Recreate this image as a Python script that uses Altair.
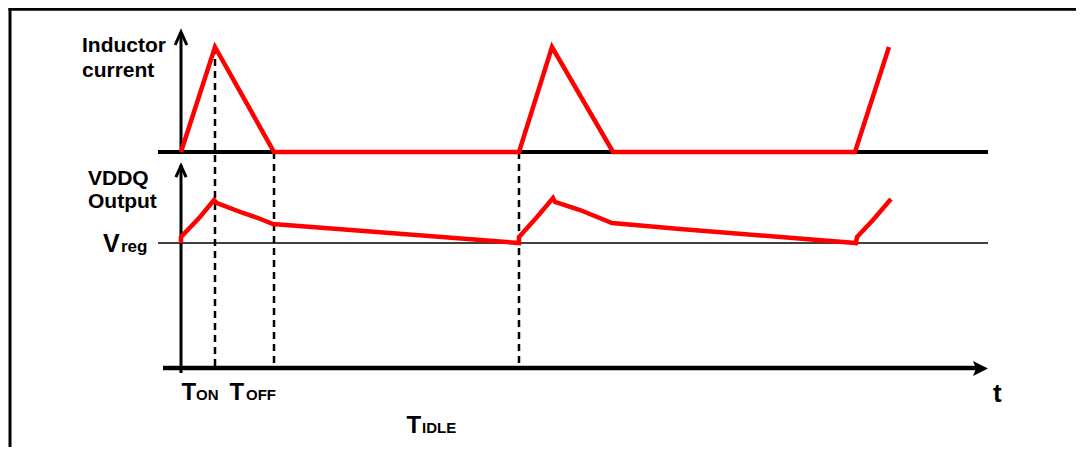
import altair as alt
import pandas as pd

# ---------------- data ----------------
# time axis in arbitrary time units (0 = start of first switching cycle)
cur_t = [0.0, 3.4, 9.3, 33.8, 37.1, 43.2, 67.4, 70.8]
cur_i = [0.0, 1.0, 0.0, 0.0, 1.0, 0.0, 0.0, 1.0]          # inductor current (peak = 1)

v_t = [0.0, 0.0, 1.9, 3.3, 3.6, 6.2, 7.7, 9.2,
       33.8, 33.8, 35.6, 37.2, 37.4, 39.9, 43.1, 49.9,
       67.5, 67.6, 69.2, 71.0]
v_mv = [0.0, 3.0, 13.0, 21.5, 20.0, 15.0, 12.5, 9.5,
        0.0, 3.0, 13.0, 22.5, 20.5, 16.5, 10.0, 7.0,
        0.0, 3.0, 11.5, 22.0]                              # VDDQ above Vreg (mV)

mark_t = [3.4, 9.3, 33.8]            # dashed time markers
mark_i = [1.0, 0.0, 0.0]             # current level where each marker starts

labels = ["Inductor", "current", "VDDQ", "Output", "V", "reg",
          "T", "ON", "T", "OFF", "T", "IDLE", "t"]

# ---------------- layout ----------------
W, H = 1068, 439
I_BASE, I_GAIN = 216, 105      # current panel baseline / height in diagram units
V_BASE, V_GAIN = 125, 2        # Vreg level / units per mV
T_END = 80.7

XS = alt.Scale(domain=[-17.3, 89.5], nice=False, zero=False)
YS = alt.Scale(domain=[-79, 360], nice=False, zero=False)


def X(f):
    return alt.X(f, type="quantitative", scale=XS, axis=None)


def Y(f):
    return alt.Y(f, type="quantitative", scale=YS, axis=None)


cur = pd.DataFrame({"t": cur_t, "i": cur_i})
cur["y"] = I_BASE + cur["i"] * I_GAIN
cur["k"] = range(len(cur))

volt = pd.DataFrame({"t": v_t, "mv": v_mv})
volt["y"] = V_BASE + volt["mv"] * V_GAIN
volt["k"] = range(len(volt))

dash = pd.DataFrame({"x": mark_t, "y": [I_BASE + v * I_GAIN for v in mark_i], "y2": 0})

RED = "#ff0000"

frame_v = alt.Chart(pd.DataFrame({"x": [-17.1], "y": [-79], "y2": [360]})).mark_rule(
    color="black", strokeWidth=3).encode(x=X("x"), y=Y("y"), y2="y2")
frame_h = alt.Chart(pd.DataFrame({"x": [-17.25], "x2": [89.5], "y": [358.8]})).mark_rule(
    color="black", strokeWidth=3).encode(x=X("x"), x2="x2", y=Y("y"))

base_i = alt.Chart(pd.DataFrame({"x": [-2.3], "x2": [T_END], "y": [I_BASE]})).mark_rule(
    color="black", strokeWidth=4).encode(x=X("x"), x2="x2", y=Y("y"))
vreg = alt.Chart(pd.DataFrame({"x": [-2.3], "x2": [T_END], "y": [V_BASE]})).mark_rule(
    color="black", strokeWidth=1.5).encode(x=X("x"), x2="x2", y=Y("y"))
taxis = alt.Chart(pd.DataFrame({"x": [-1.8], "x2": [80.0], "y": [0]})).mark_rule(
    color="black", strokeWidth=4.5).encode(x=X("x"), x2="x2", y=Y("y"))

dashed = alt.Chart(dash).mark_rule(color="black", strokeWidth=2.5, strokeDash=[7, 5]).encode(
    x=X("x"), y=Y("y"), y2="y2")

vax = alt.Chart(pd.DataFrame({"x": [0, 0], "y": [I_BASE, -5], "y2": [334, 203]})).mark_rule(
    color="black", strokeWidth=3).encode(x=X("x"), y=Y("y"), y2="y2")

chev = "M-0.9,1L0,-1L0.9,1"
arr_up = alt.Chart(pd.DataFrame({"x": [0], "y": [329.5]})).mark_point(
    shape=chev, size=169, filled=False, stroke="black", strokeWidth=3, opacity=1,
    strokeJoin="miter").encode(x=X("x"), y=Y("y"))
arr_lo = alt.Chart(pd.DataFrame({"x": [0], "y": [196.5]})).mark_point(
    shape=chev, size=130, filled=False, stroke="black", strokeWidth=3, opacity=1,
    strokeJoin="miter").encode(x=X("x"), y=Y("y"))
arr_t = alt.Chart(pd.DataFrame({"x": [79.95], "y": [-0.5]})).mark_point(
    shape="M1,0L-1,-1L-0.6,0L-1,1Z", size=225, filled=True, color="black",
    opacity=1, strokeWidth=0).encode(x=X("x"), y=Y("y"))

cur_line = alt.Chart(cur).mark_line(color=RED, strokeWidth=4.5, strokeCap="butt",
                                    strokeJoin="miter").encode(
    x=X("t"), y=Y("y"), order=alt.Order("k:Q"))
v_line = alt.Chart(volt).mark_line(color=RED, strokeWidth=4.5, strokeCap="butt",
                                   strokeJoin="miter").encode(
    x=X("t"), y=Y("y"), order=alt.Order("k:Q"))

lab = pd.DataFrame({
    "text": labels,
    "x": [-9.9, -9.9, -9.3, -9.3, -7.8, -6.0, 0.05, 1.5, 4.85, 6.5, 22.55, 24.1, 81.2],
    "y": [316, 291, 183, 160, 116, 116, -32, -32, -32, -32, -65, -65, -34],
    "fs": [21, 21, 21, 21, 25, 17, 24, 15, 24, 15, 24, 15, 26],
})
text = alt.Chart(lab).mark_text(align="left", baseline="alphabetic", font="Liberation Sans",
                                fontWeight="bold", color="black").encode(
    x=X("x"), y=Y("y"), text="text:N", size=alt.Size("fs:Q", scale=None))

chart = alt.layer(
    frame_v, frame_h, base_i, vreg, dashed, taxis, vax, arr_up, arr_lo, arr_t,
    cur_line, v_line, text
).properties(
    width=W, height=H, padding=0, background="white",
    autosize=alt.AutoSizeParams(type="none"),
).configure_view(strokeWidth=0)

chart.save("out.html", embed_options={"renderer": "svg", "actions": False})
